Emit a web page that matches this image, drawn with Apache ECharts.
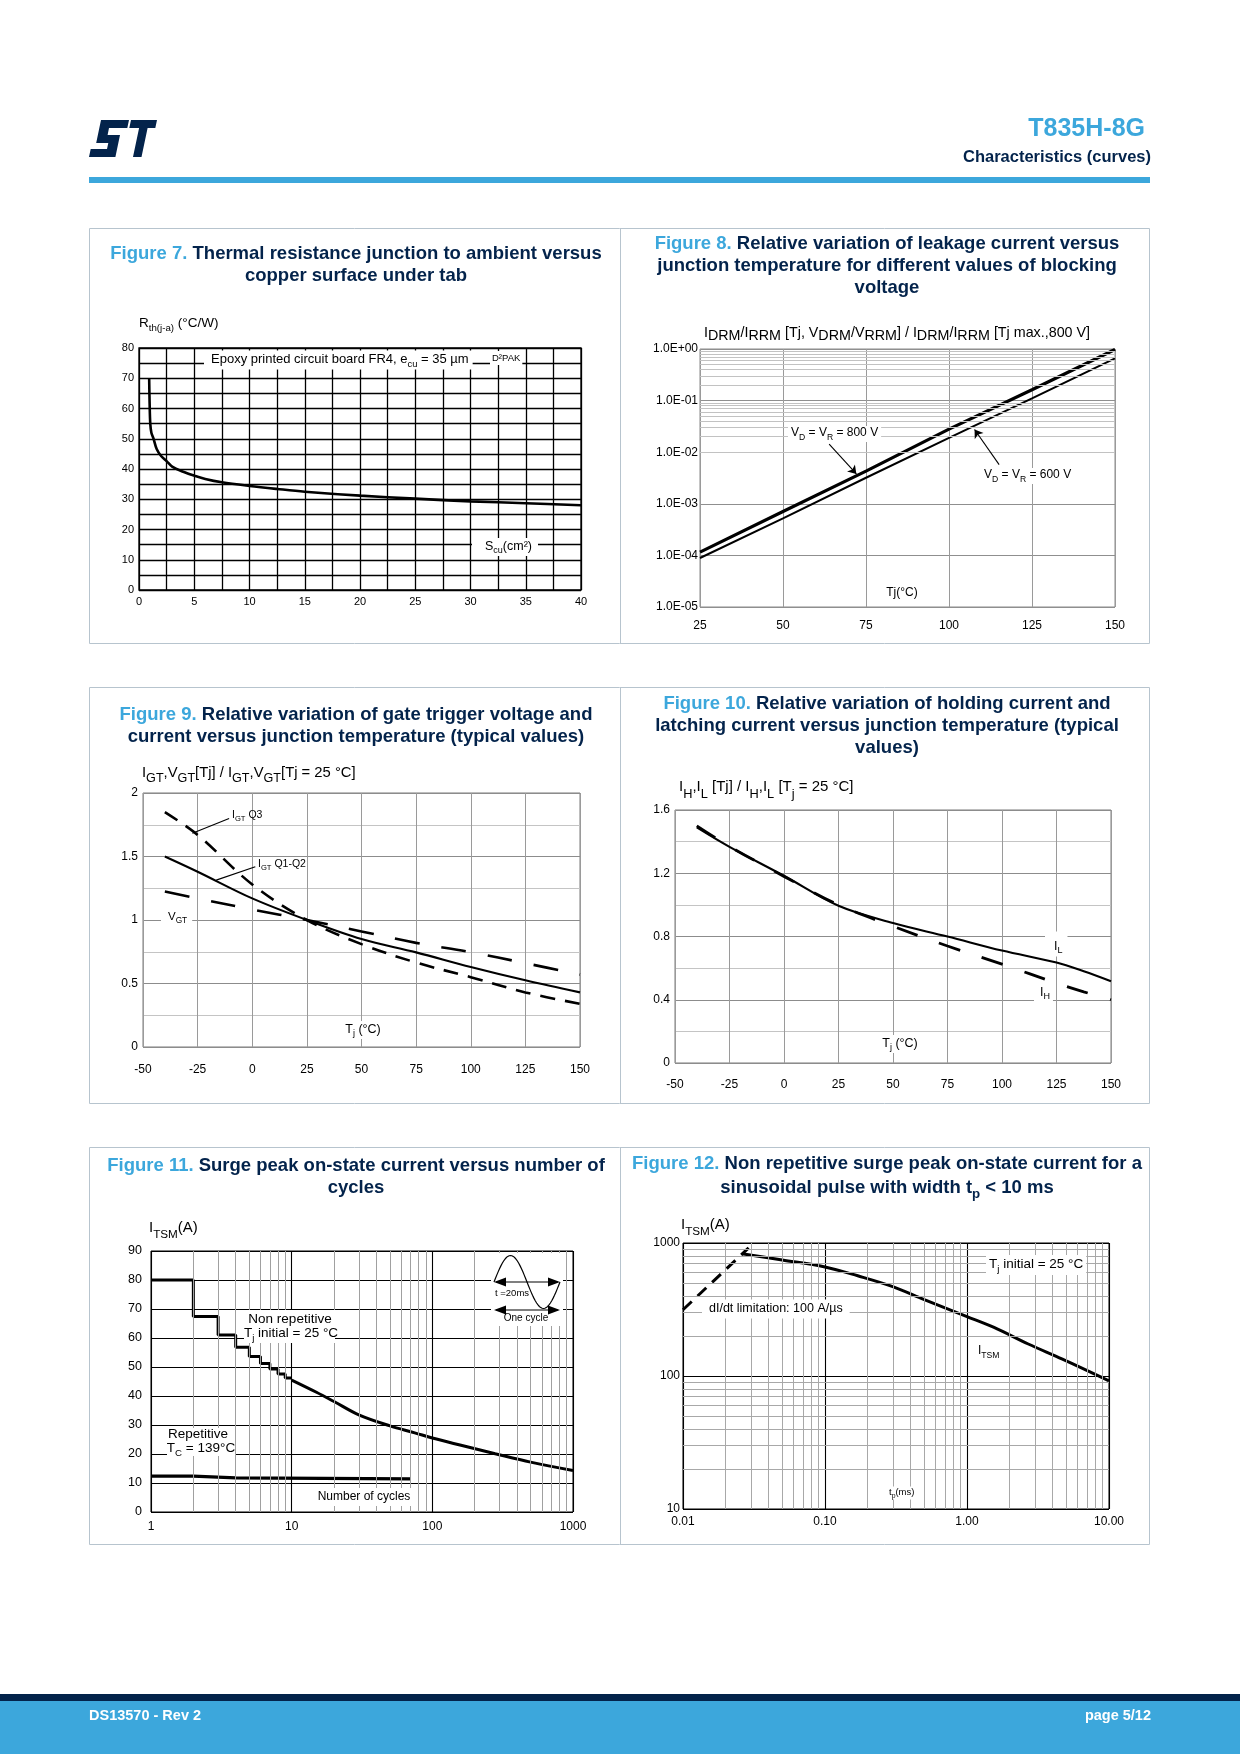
<!DOCTYPE html>
<html>
<head>
<meta charset="utf-8">
<title>T835H-8G Characteristics (curves)</title>
<script src="https://cdn.jsdelivr.net/npm/echarts@6.0.0/dist/echarts.min.js"></script>
<style>
html,body{margin:0;padding:0;background:#fff;}
#chart{width:1240px;height:1754px;}
</style>
</head>
<body>
<div id="chart"></div>
<script>
// ================= DATA =================
// Figure 7 : Rth(j-a) vs copper surface
const fig7Area = [0.92, 0.96, 1.02, 1.12, 1.3, 1.6, 2.0, 2.5, 3.0, 4.0, 5.0, 6.0, 7.5, 10, 12.5, 15, 20, 25, 30, 35, 40];
const fig7Rth  = [70, 62, 55, 52, 50.2, 46.6, 44.3, 42.6, 40.8, 39.1, 37.8, 36.7, 35.6, 34.4, 33.4, 32.5, 31.2, 30.2, 29.3, 28.7, 28.0];

// Figure 8 : relative leakage current vs Tj
const fig8Tj = [25, 50, 75, 100, 125, 150];
const fig8Leak800 = [1.16e-4, 7.1e-4, 4.3e-3, 2.8e-2, 1.62e-1, 9.8e-1];
const fig8Leak600 = [8.9e-5, 5.2e-4, 3.2e-3, 1.9e-2, 1.1e-1, 6.6e-1];
const fig8YLabels = ['1.0E-05', '1.0E-04', '1.0E-03', '1.0E-02', '1.0E-01', '1.0E+00'];
const fig8Arrow800 = [[63.9, 0.0144], [72.1, 0.0038]];
const fig8Arrow600 = [[115.1, 0.00573], [107.7, 0.0275]];

// Figure 9 : IGT, VGT relative variation
const fig9Tj = [-40, -25, 0, 25, 50, 75, 100, 125, 150];
const fig9IgtQ3  = [1.85, 1.67, 1.28, 1.0, 0.81, 0.665, 0.55, 0.43, 0.34];
const fig9IgtQ12 = [1.50, 1.38, 1.17, 1.0, 0.85, 0.745, 0.63, 0.525, 0.43];
const fig9Vgt    = [1.225, 1.17, 1.083, 1.0, 0.91, 0.82, 0.746, 0.66, 0.57];
const fig9YLabels = ['0', '0.5', '1', '1.5', '2'];
const fig9LeaderQ3  = [[-10.6, 1.80], [-27.4, 1.683]];
const fig9LeaderQ12 = [[1.4, 1.42], [-16.5, 1.314]];

// Figure 10 : IH, IL relative variation
const fig10Tj = [-40, -25, 0, 25, 50, 75, 100, 125, 137.5, 150];
const fig10IL = [1.49, 1.367, 1.184, 0.994, 0.885, 0.80, 0.711, 0.635, 0.58, 0.517];
const fig10IH = [1.50, 1.37, 1.18, 1.0, 0.865, 0.74, 0.625, 0.505, 0.45, 0.40];
const fig10YLabels = ['0', '0.4', '0.8', '1.2', '1.6'];

// Figure 11 : ITSM vs number of cycles
const fig11StepN = [1, 2, 3, 4, 5, 6, 7, 8, 9, 10];
const fig11StepI = [80, 67.4, 61, 56.8, 53.6, 51.2, 49.3, 47.6, 46.2, 46.2];
const fig11CurveN = [10, 15, 20, 30, 50, 75, 100, 160, 280, 500, 1000];
const fig11CurveI = [45.5, 41.3, 38.1, 33.5, 29.7, 27.3, 25.5, 23.0, 20.1, 17.2, 14.3];
const fig11RepN = [1, 2, 4, 70];
const fig11RepI = [12.4, 11.8, 11.4, 11.4];
const fig11XLabels = ['1', '10', '100', '1000'];

// Figure 12 : ITSM vs pulse width
const fig12Tp   = [0.026, 0.05, 0.1, 0.17, 0.3, 0.5, 1.0, 1.55, 2.7, 4.7, 10];
const fig12Itsm = [830, 745, 661, 567, 470, 375, 280, 232, 174, 134, 92];
const fig12DidtTp = [0.01, 0.029];
const fig12DidtI  = [315, 920];
const fig12XLabels = ['0.01', '0.10', '1.00', '10.00'];
const fig12YLabels = ['10', '100', '1000'];

// ================= HELPERS =================
const FONT = "'Liberation Sans', Arial, Helvetica, sans-serif";
const NAVY = '#03234b';
const LBLUE = '#3ca7dc';
const PANEL = '#b7c4ce';

const pairs = (xs, ys) => xs.map((x, i) => [x, ys[i]]);
function logMinors(e0, e1) {
  const out = [];
  for (let e = e0; e < e1; e++) for (let m = 2; m <= 9; m++) out.push(+(m * Math.pow(10, e)).toPrecision(6));
  return out;
}
const isMult = (v, step) => Math.abs(v / step - Math.round(v / step)) < 1e-6;
const decIdx = (v, e0) => Math.round(Math.log10(v)) - e0;

function rich(size, o) {
  const sub = Math.round(size * (o.subRatio || 0.72) * 10) / 10;
  const base = { fontFamily: FONT, fontWeight: o.weight || 'normal', fill: o.color || '#000' };
  return {
    n: Object.assign({}, base, { fontSize: size, lineHeight: Math.round(size * 1.15), verticalAlign: 'top' }),
    s: Object.assign({}, base, { fontSize: sub, lineHeight: Math.round(sub * 1.1), verticalAlign: 'top', padding: [Math.round(size * 0.5), 0, 0, 0] }),
    d: Object.assign({}, base, { fontSize: size, lineHeight: Math.round(size * 1.15), verticalAlign: 'top', padding: [Math.round(size * 0.22), 0, 0, 0] }),
    f: Object.assign({}, base, { fontSize: size, lineHeight: Math.round(size * 1.15), verticalAlign: 'top', fill: LBLUE })
  };
}
function T(x, y, text, o) {
  o = o || {};
  const size = o.size || 12;
  const al = o.align || 'left';
  const st = {
    text: text, fontFamily: FONT, fontSize: size, fontWeight: o.weight || 'normal',
    fill: o.color || '#000', align: al, textAlign: al,
    verticalAlign: 'middle', textVerticalAlign: 'middle',
    rich: rich(size, o)
  };
  if (o.bg) { st.backgroundColor = o.bg; st.padding = o.pad || [1, 2]; }
  return { type: 'text', x: x, y: y, z: o.z || 30, silent: true, style: st };
}
const R = (x, y, w, h, fill, z) => ({ type: 'rect', silent: true, z: z || 25, shape: { x: x, y: y, width: w, height: h }, style: { fill: fill } });
const L = (x1, y1, x2, y2, stroke, w, z) => ({ type: 'line', silent: true, z: z || 26, shape: { x1: x1, y1: y1, x2: x2, y2: y2 }, style: { stroke: stroke, lineWidth: w } });
const P = (pts, fill, z) => ({ type: 'polygon', silent: true, z: z || 26, shape: { points: pts }, style: { fill: fill } });

// ================= GRAPHICS (page furniture & annotations) =================
const g = [];
// logo
g.push({ type: 'group', x: 89, y: 120, silent: true, children: [
  { type: 'polygon', shape: { points: [[12, 0], [40, 0], [38.3, 8], [20, 8], [18.6, 15], [31, 15], [26.4, 37], [0, 37], [1.7, 29], [18, 29], [19.3, 23], [7.2, 23]] }, style: { fill: NAVY } },
  { type: 'polygon', shape: { points: [[42, 0], [68, 0], [66.3, 8], [58.6, 8], [52.5, 37], [44, 37], [50.1, 8], [40.3, 8]] }, style: { fill: NAVY } }
] });
g.push(T(1145, 129, 'T835H-8G', { size: 25, weight: 'bold', color: LBLUE, align: 'right' }));
g.push(T(1151, 157, 'Characteristics (curves)', { size: 16.5, weight: 'bold', color: NAVY, align: 'right' }));
g.push(R(89, 177, 1061, 6, LBLUE, 1));
// footer
g.push(R(0, 1694, 1240, 7, NAVY, 1));
g.push(R(0, 1701, 1240, 53, LBLUE, 1));
g.push(T(89, 1716, 'DS13570 - Rev 2', { size: 14.5, weight: 'bold', color: '#fff' }));
g.push(T(1151, 1716, 'page 5/12', { size: 14.5, weight: 'bold', color: '#fff', align: 'right' }));
// panels
[[228, 643], [687, 1103], [1147, 1544]].forEach(function (r) {
  g.push({ type: 'rect', silent: true, z: 1, shape: { x: 89.5, y: r[0] + 0.5, width: 1060, height: r[1] - r[0] }, style: { fill: null, stroke: PANEL, lineWidth: 1 } });
  g.push({ type: 'line', silent: true, z: 1, shape: { x1: 620.5, y1: r[0], x2: 620.5, y2: r[1] }, style: { stroke: PANEL, lineWidth: 1 } });
});
// titles
const TT = { size: 18.5, weight: 'bold', color: NAVY, align: 'center' };
g.push(T(356, 255, '{f|Figure 7.}{n| Thermal resistance junction to ambient versus}', TT));
g.push(T(356, 277, '{n|copper surface under tab}', TT));
g.push(T(887, 245, '{f|Figure 8.}{n| Relative variation of leakage current versus}', TT));
g.push(T(887, 267, '{n|junction temperature for different values of blocking}', TT));
g.push(T(887, 289, '{n|voltage}', TT));
g.push(T(356, 716, '{f|Figure 9.}{n| Relative variation of gate trigger voltage and}', TT));
g.push(T(356, 738, '{n|current versus junction temperature (typical values)}', TT));
g.push(T(887, 705, '{f|Figure 10.}{n| Relative variation of holding current and}', TT));
g.push(T(887, 727, '{n|latching current versus junction temperature (typical}', TT));
g.push(T(887, 749, '{n|values)}', TT));
g.push(T(356, 1167, '{f|Figure 11.}{n| Surge peak on-state current versus number of}', TT));
g.push(T(356, 1189, '{n|cycles}', TT));
g.push(T(887, 1165, '{f|Figure 12.}{n| Non repetitive surge peak on-state current for a}', TT));
g.push(T(887, 1189, '{n|sinusoidal pulse with width t}{s|p}{n| < 10 ms}', TT));

// axis names
g.push(T(139, 324, '{n|R}{s|th(j-a)}{n| (°C/W)}', { size: 13.5 }));
g.push(T(704, 334, '{n|I}{d|DRM}{n|/I}{d|RRM}{n| [Tj, V}{d|DRM}{n|/V}{d|RRM}{n|] / I}{d|DRM}{n|/I}{d|RRM}{n| [Tj max.,800 V]}', { size: 14.3 }));
g.push(T(142, 774, '{n|I}{s|GT}{n|,V}{s|GT}{n|[Tj] / I}{s|GT}{n|,V}{s|GT}{n|[Tj = 25 °C]}', { size: 14.8, subRatio: 0.85 }));
g.push(T(679, 788, '{n|I}{s|H}{n|,I}{s|L}{n| [Tj] / I}{s|H}{n|,I}{s|L}{n| [T}{s|j}{n| = 25 °C]}', { size: 15, subRatio: 0.85 }));
g.push(T(149, 1229, '{n|I}{s|TSM}{n|(A)}', { size: 15, subRatio: 0.78 }));
g.push(T(681, 1226, '{n|I}{s|TSM}{n|(A)}', { size: 15, subRatio: 0.78 }));

// Figure 7 annotations
g.push(T(204, 360, '{n|Epoxy printed circuit board FR4, e}{s|cu}{n| = 35 µm}', { size: 13, bg: '#fff', pad: [2, 4, 2, 7] }));
g.push(T(490, 358, 'D²PAK', { size: 9.5, bg: '#fff', pad: [2, 2, 2, 2] }));
g.push(T(472, 547, '{n|S}{s|cu}{n|(cm²)}', { size: 12.5, bg: '#fff', pad: [2, 6, 2, 13] }));
// Figure 8 annotations
g.push(T(788, 434, '{n|V}{s|D}{n| = V}{s|R}{n| = 800 V}', { size: 12, bg: '#fff', pad: [1, 3, 1, 3] }));
g.push(T(981, 476, '{n|V}{s|D}{n| = V}{s|R}{n| = 600 V}', { size: 12, bg: '#fff', pad: [1, 3, 1, 3] }));
g.push(T(902, 593, 'Tj(°C)', { size: 12, bg: '#fff', pad: [2, 4, 2, 4], align: 'center' }));
// Figure 9 annotations
g.push(T(232, 816, '{n|I}{s|GT}{n| Q3}', { size: 10.5 }));
g.push(T(258, 865, '{n|I}{s|GT}{n| Q1-Q2}', { size: 10.5 }));
g.push(T(161, 917, '{n|V}{s|GT}', { size: 11.5, bg: '#fff', pad: [2, 5, 2, 7] }));
g.push(T(363, 1030, '{n|T}{s|j}{n| (°C)}', { size: 12.5, bg: '#fff', pad: [2, 8, 2, 8], align: 'center' }));
// Figure 10 annotations
g.push(T(1045, 944, '{n|I}{s|L}', { size: 12.5, bg: '#fff', pad: [9, 5, 2, 9] }));
g.push(T(1034, 993, '{n|I}{s|H}', { size: 12.5, bg: '#fff', pad: [2, 3, 2, 6] }));
g.push(T(900, 1044, '{n|T}{s|j}{n| (°C)}', { size: 12.5, bg: '#fff', pad: [2, 8, 2, 8], align: 'center' }));
// Figure 11 annotations
g.push(R(244, 1310, 91, 33, '#fff'));
g.push(T(290, 1319, 'Non repetitive', { size: 13.5, align: 'center' }));
g.push(T(291, 1334, '{n|T}{s|j}{n| initial = 25 °C}', { size: 13.5, align: 'center' }));
g.push(R(167, 1428, 68, 28, '#fff'));
g.push(T(198, 1434, 'Repetitive', { size: 13.5, align: 'center' }));
g.push(T(201, 1449, '{n|T}{s|C}{n| = 139°C}', { size: 13.5, align: 'center' }));
g.push(T(364, 1497, 'Number of cycles', { size: 12, bg: '#fff', pad: [3, 4, 3, 4], align: 'center' }));
// sine icon (one cycle)
g.push(R(491, 1253, 72, 73, '#fff'));
(function () {
  const pts = [];
  for (let k = 0; k <= 48; k++) { const t = k / 48; pts.push([494 + 66 * t, 1282 - 26.5 * Math.sin(2 * Math.PI * t)]); }
  g.push({ type: 'polyline', silent: true, z: 27, shape: { points: pts }, style: { stroke: '#000', lineWidth: 1.2, fill: null } });
})();
[1282, 1310].forEach(function (y) {
  g.push(L(496, y, 558, y, '#000', 1.2, 27));
  g.push(P([[494, y], [506, y - 4.5], [506, y + 4.5]], '#000', 27));
  g.push(P([[560, y], [548, y - 4.5], [548, y + 4.5]], '#000', 27));
});
g.push(T(495, 1293, 't =20ms', { size: 9.5, z: 28 }));
g.push(T(526, 1318, 'One cycle', { size: 10, align: 'center', z: 28 }));
// Figure 12 annotations
g.push(T(986, 1265, '{n|T}{s|j}{n| initial = 25 °C}', { size: 13.5, bg: '#fff', pad: [2, 3, 2, 3] }));
g.push(T(702, 1309, 'dI/dt limitation: 100 A/µs', { size: 12.5, bg: '#fff', pad: [3, 7, 3, 7] }));
g.push(T(978, 1352, '{n|I}{s|TSM}', { size: 12 }));
g.push(T(887, 1493, '{n|t}{s|p}{n|(ms)}', { size: 9.5, bg: '#fff', pad: [1, 2, 1, 2] }));

// ================= AXES =================
const NO = { show: false };
function lbl(size, margin, fmt, extra) {
  return Object.assign({ color: '#000', fontSize: size, fontFamily: FONT, margin: margin, formatter: fmt }, extra || {});
}
function split(color, width) { return { show: true, lineStyle: { color: color, width: width || 1, type: 'solid' } }; }

const grids = [
  { left: 139, top: 348, width: 442, height: 242, show: true, borderColor: '#000', borderWidth: 1.3 },
  { left: 700, top: 349, width: 415, height: 258, show: true, borderColor: '#8a8a8a', borderWidth: 1 },
  { left: 143, top: 793, width: 437, height: 254, show: true, borderColor: '#7a7a7a', borderWidth: 1 },
  { left: 675, top: 810, width: 436, height: 253, show: true, borderColor: '#7a7a7a', borderWidth: 1 },
  { left: 151, top: 1251, width: 422, height: 261, show: true, borderColor: '#000', borderWidth: 1 },
  { left: 683, top: 1243, width: 426, height: 266, show: true, borderColor: '#000', borderWidth: 1 }
];

const xAxes = [
  { gridIndex: 0, type: 'value', min: 0, max: 40, interval: 2.5, axisLine: NO, axisTick: NO, splitLine: split('#000', 1.3),
    axisLabel: lbl(11, 6, v => isMult(v, 5) ? String(v) : '') },
  { gridIndex: 1, type: 'value', min: 25, max: 150, interval: 25, axisLine: NO, axisTick: NO, splitLine: split('#9a9a9a'),
    axisLabel: lbl(12, 13, v => String(v)) },
  { gridIndex: 2, type: 'value', min: -50, max: 150, interval: 25, axisLine: NO, axisTick: NO, splitLine: split('#9a9a9a'),
    axisLabel: lbl(12, 17, v => String(v)) },
  { gridIndex: 3, type: 'value', min: -50, max: 150, interval: 25, axisLine: NO, axisTick: NO, splitLine: split('#9a9a9a'),
    axisLabel: lbl(12, 16, v => String(v)) },
  { gridIndex: 4, type: 'log', logBase: 10, min: 1, max: 1000, axisLine: NO, axisTick: NO, splitLine: split('#000', 1.1),
    axisLabel: lbl(12, 9, v => fig11XLabels[decIdx(v, 0)]) },
  { gridIndex: 5, type: 'log', logBase: 10, min: 0.01, max: 10, axisLine: NO, axisTick: NO, splitLine: split('#000', 1.1),
    axisLabel: lbl(12, 7, v => fig12XLabels[decIdx(v, -2)]) }
];
const yAxes = [
  { gridIndex: 0, type: 'value', min: 0, max: 80, interval: 5, axisLine: NO, axisTick: NO, splitLine: split('#000', 1.3),
    axisLabel: lbl(11, 5, v => isMult(v, 10) ? String(v) : '') },
  { gridIndex: 1, type: 'log', logBase: 10, min: 1e-5, max: 1, axisLine: NO, axisTick: NO, splitLine: split('#8f8f8f'),
    axisLabel: lbl(12, 2, v => fig8YLabels[decIdx(v, -5)], { padding: [0, 0, 4, 0] }) },
  { gridIndex: 2, type: 'value', min: 0, max: 2, interval: 0.25, axisLine: NO, axisTick: NO,
    splitLine: { show: true, lineStyle: { color: ['#8c8c8c', '#c4c4c4'], width: 1 } },
    axisLabel: lbl(12, 5, v => isMult(v, 0.5) ? fig9YLabels[Math.round(v / 0.5)] : '', { padding: [0, 0, 4, 0] }) },
  { gridIndex: 3, type: 'value', min: 0, max: 1.6, interval: 0.2, axisLine: NO, axisTick: NO,
    splitLine: { show: true, lineStyle: { color: ['#8c8c8c', '#c4c4c4'], width: 1 } },
    axisLabel: lbl(12, 5, v => isMult(v, 0.4) ? fig10YLabels[Math.round(v / 0.4)] : '', { padding: [0, 0, 8, 0] }) },
  { gridIndex: 4, type: 'value', min: 0, max: 90, interval: 10, axisLine: NO, axisTick: NO, splitLine: split('#000', 1),
    axisLabel: lbl(12.5, 9, v => String(v), { padding: [0, 0, 12, 0] }) },
  { gridIndex: 5, type: 'log', logBase: 10, min: 10, max: 1000, axisLine: NO, axisTick: NO, splitLine: split('#000', 1.1),
    axisLabel: lbl(12, 3, v => fig12YLabels[decIdx(v, 1)], { padding: [0, 0, 7, 0] }) }
];

// ================= SERIES =================
function gridHelper(gi, axis, values, color) {
  return {
    type: 'line', xAxisIndex: gi, yAxisIndex: gi, data: [], z: 1, silent: true,
    markLine: { silent: true, symbol: 'none', animation: false, label: { show: false }, emphasis: { disabled: true },
      lineStyle: { color: color, width: 1, type: 'solid' },
      data: values.map(v => axis === 'x' ? { xAxis: v } : { yAxis: v }) }
  };
}
function pointer(gi, segs, arrow) {
  return {
    type: 'line', xAxisIndex: gi, yAxisIndex: gi, data: [], z: 5, silent: true,
    markLine: { silent: true, animation: false, symbol: arrow ? ['none', 'arrow'] : 'none', symbolSize: 8,
      label: { show: false }, emphasis: { disabled: true },
      lineStyle: { color: '#000', width: 1.1, type: 'solid' },
      data: segs.map(s => [{ coord: s[0] }, { coord: s[1] }]) }
  };
}
function curve(gi, data, width, dash, extra) {
  return Object.assign({
    type: 'line', xAxisIndex: gi, yAxisIndex: gi, data: data, showSymbol: false, symbol: 'none', z: 3, silent: true,
    lineStyle: { color: '#000', width: width, type: dash || 'solid', cap: 'butt' }
  }, extra || {});
}

const series = [
  // Figure 7
  curve(0, pairs(fig7Area, fig7Rth), 2.6, null, { smooth: 0.35 }),
  // Figure 8
  gridHelper(1, 'y', logMinors(-5, 0), '#c2c2c2'),
  curve(1, pairs(fig8Tj, fig8Leak800), 3.2),
  curve(1, pairs(fig8Tj, fig8Leak600), 2),
  pointer(1, [fig8Arrow800, fig8Arrow600], true),
  // Figure 9
  curve(2, pairs(fig9Tj, fig9IgtQ3), 2.6, [15, 10], { smooth: 0.35 }),
  curve(2, pairs(fig9Tj, fig9IgtQ12), 2.1, null, { smooth: 0.35 }),
  curve(2, pairs(fig9Tj, fig9Vgt), 2.6, [25, 22], { smooth: 0.35 }),
  pointer(2, [fig9LeaderQ3, fig9LeaderQ12], false),
  // Figure 10
  curve(3, pairs(fig10Tj, fig10IL), 2.1, null, { smooth: 0.35 }),
  curve(3, pairs(fig10Tj, fig10IH), 2.8, [22, 23], { smooth: 0.35 }),
  // Figure 11
  gridHelper(4, 'x', logMinors(0, 3), '#a0a0a0'),
  curve(4, pairs(fig11StepN, fig11StepI), 3, null, { step: 'end' }),
  curve(4, pairs(fig11CurveN, fig11CurveI), 3, null, { smooth: 0.35 }),
  curve(4, pairs(fig11RepN, fig11RepI), 3.2, null, { step: 'end' }),
  // Figure 12
  gridHelper(5, 'x', logMinors(-2, 1), '#a8a8a8'),
  gridHelper(5, 'y', logMinors(1, 3), '#a8a8a8'),
  curve(5, pairs(fig12Tp, fig12Itsm), 3, null, { smooth: 0.35 }),
  curve(5, pairs(fig12DidtTp, fig12DidtI), 3, [12, 8])
];

const chart = echarts.init(document.getElementById('chart'), null, { renderer: 'canvas', width: 1240, height: 1754 });
chart.setOption({
  animation: false,
  backgroundColor: '#fff',
  textStyle: { fontFamily: FONT },
  grid: grids,
  xAxis: xAxes,
  yAxis: yAxes,
  series: series,
  graphic: { elements: g }
});
</script>
</body>
</html>
